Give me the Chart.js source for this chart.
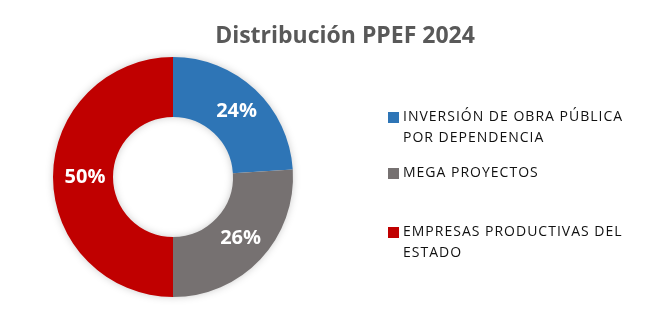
<!DOCTYPE html>
<html>
<head>
<meta charset="utf-8">
<script src="https://cdn.jsdelivr.net/npm/chart.js@4"></script>
<style>
  html, body { margin: 0; padding: 0; background: #ffffff; }
  #wrap { position: relative; width: 656px; height: 326px; }
</style>
</head>
<body>
<div id="wrap"><canvas id="myChart" width="656" height="326"></canvas></div>
<script>
// Data
var chartTitle = 'Distribución PPEF 2024';
var categories = ['INVERSIÓN DE OBRA PÚBLICA POR DEPENDENCIA', 'MEGA PROYECTOS', 'EMPRESAS PRODUCTIVAS DEL ESTADO'];
var legendLines = [['INVERSIÓN DE OBRA PÚBLICA', 'POR DEPENDENCIA'], ['MEGA PROYECTOS'], ['EMPRESAS PRODUCTIVAS DEL', 'ESTADO']];
var shares = [24, 26, 50];
var sliceColors = ['#2E75B6', '#767171', '#C00000'];

var FONT = '"Open Sans", "Liberation Sans", sans-serif';

// Title, legend and slice labels drawn on the canvas
var decorPlugin = {
    id: 'decor',
    beforeDatasetsDraw: function(chart) {
        var ctx = chart.ctx;
        ctx.save();
        // soft shadow under the ring
        var arc = chart.getDatasetMeta(0).data[0];
        ctx.shadowColor = 'rgba(0,0,0,0.25)';
        ctx.shadowBlur = 8;
        ctx.beginPath();
        ctx.arc(arc.x, arc.y, arc.outerRadius - 1, 0, Math.PI * 2);
        ctx.arc(arc.x, arc.y, arc.innerRadius + 1, 0, Math.PI * 2, true);
        ctx.fillStyle = '#ffffff';
        ctx.fill();
        ctx.restore();
    },
    afterDraw: function(chart) {
        var ctx = chart.ctx;
        ctx.save();

        // title
        ctx.fillStyle = '#595959';
        ctx.font = 'bold 23px ' + FONT;
        ctx.textAlign = 'center';
        ctx.textBaseline = 'middle';
        ctx.fillText(chartTitle, 345, 36);

        // slice labels
        var meta = chart.getDatasetMeta(0);
        ctx.fillStyle = '#ffffff';
        ctx.font = 'bold 20px ' + FONT;
        meta.data.forEach(function(el, i) {
            var p = el.tooltipPosition();
            ctx.fillText(shares[i] + '%', p.x + 2, p.y);
        });

        // legend
        var itemY = [117, 173, 232];
        ctx.textAlign = 'left';
        ctx.font = '14px ' + FONT;
        ctx.letterSpacing = '1px';
        for (var i = 0; i < legendLines.length; i++) {
            ctx.fillStyle = sliceColors[i];
            ctx.fillRect(388, itemY[i] - 5, 11, 11);
            ctx.fillStyle = '#111111';
            for (var j = 0; j < legendLines[i].length; j++) {
                ctx.fillText(legendLines[i][j], 403, itemY[i] + j * 21);
            }
        }
        ctx.restore();
    }
};

var ctx = document.getElementById('myChart').getContext('2d');
new Chart(ctx, {
    type: 'doughnut',
    data: {
        labels: categories,
        datasets: [
            {
                data: shares,
                backgroundColor: sliceColors,
                borderWidth: 0
            }
        ]
    },
    options: {
        responsive: false,
        animation: false,
        cutout: '50%',
        layout: {
            padding: { left: 53, top: 57, right: 363, bottom: 29 }
        },
        plugins: {
            legend: { display: false },
            title: { display: false },
            tooltip: { enabled: false }
        }
    },
    plugins: [decorPlugin]
});
</script>
</body>
</html>
